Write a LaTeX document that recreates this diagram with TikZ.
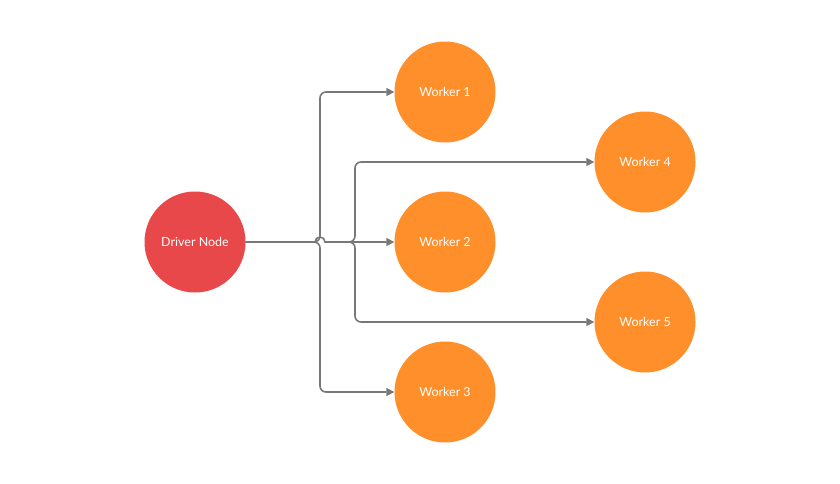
\documentclass[tikz,border=0pt]{standalone}
\usepackage{fontspec}
\setmainfont{Lato}
\usetikzlibrary{arrows.meta}
\definecolor{drv}{HTML}{E84849}
\definecolor{wrk}{HTML}{FF8F2B}
\definecolor{ln}{HTML}{787878}
\begin{document}
\begin{tikzpicture}[x=1pt,y=-1pt,
  circ/.style={circle,minimum size=101pt,inner sep=0pt,text=white,font=\fontsize{12.5}{14}\selectfont},
  conn/.style={draw=ln,line width=1.6pt,rounded corners=6pt,-{Triangle[length=8pt,width=8pt]}}]
\useasboundingbox[fill=white] (0,0) rectangle (840,483);
\node[circ,fill=drv] (d) at (195,242) {Driver Node};
\node[circ,fill=wrk] (w1) at (445,92) {Worker 1};
\node[circ,fill=wrk] (w2) at (445,242) {Worker 2};
\node[circ,fill=wrk] (w3) at (445,392) {Worker 3};
\node[circ,fill=wrk] (w4) at (645,162) {Worker 4};
\node[circ,fill=wrk] (w5) at (645,322) {Worker 5};
\draw[conn] (d.east) -- (320,242) -- (320,92) -- (w1.west);
\draw[conn] (d.east) -- (320,242) -- (320,392) -- (w3.west);
\draw[conn,rounded corners=0pt] (d.east) -- (315,242) arc[start angle=180,end angle=360,radius=5] -- (w2.west);
\draw[conn] (325,242) -- (355,242) -- (355,162) -- (w4.west);
\draw[conn] (325,242) -- (355,242) -- (355,322) -- (w5.west);
\end{tikzpicture}
\end{document}
